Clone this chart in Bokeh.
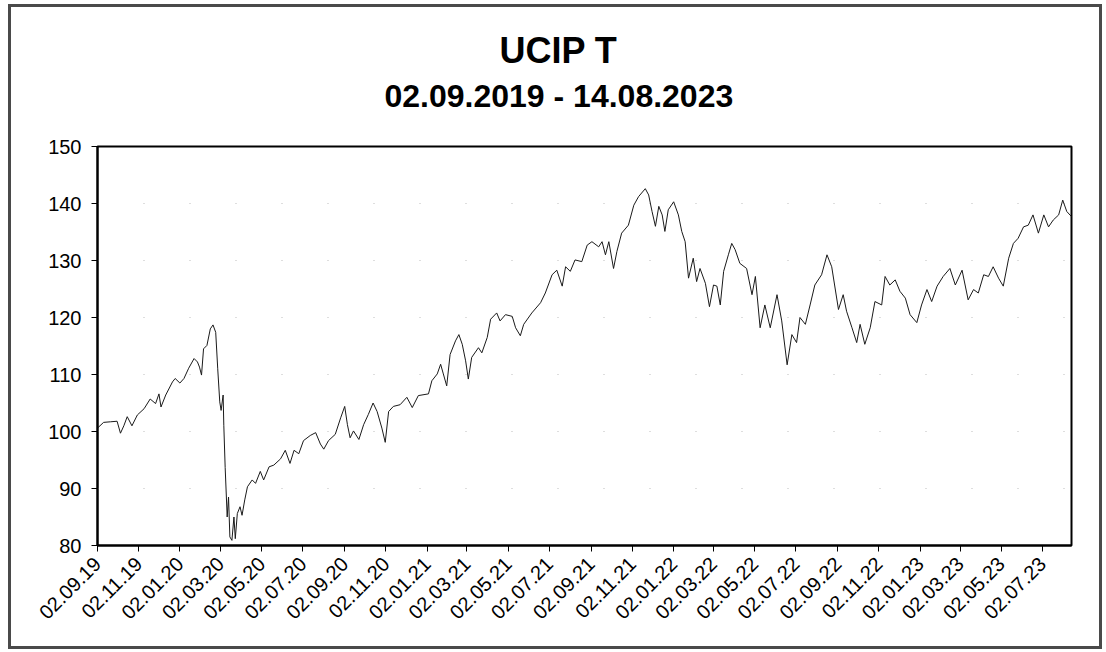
import datetime as dt
from bokeh.plotting import figure
from bokeh.models import (ColumnDataSource, Range1d, FixedTicker, DatetimeTickFormatter, Title)
from bokeh.embed import file_html
from bokeh.resources import INLINE

title_text = "UCIP T"
subtitle_text = "02.09.2019 - 14.08.2023"

start_date = dt.datetime(2019, 9, 2)
end_date = dt.datetime(2023, 8, 14)

# days after 02.09.2019 for each read-off point
day_offsets = [
    0, 9, 19, 29, 34, 39, 44, 51, 59, 69, 78, 86, 91, 94, 101, 111, 115, 122, 128, 135,
    143, 148, 151, 154, 157, 162, 167, 171, 175, 178, 181, 183, 186, 187, 189, 192, 194, 196, 199, 202,
    204, 207, 211, 214, 218, 222, 229, 234, 241, 246, 254, 261, 271, 278, 285, 291, 298, 305, 315, 323,
    330, 335, 342, 352, 360, 366, 370, 374, 379, 387, 394, 401, 408, 414, 421, 426, 431, 438, 448, 458,
    466, 475, 490, 495, 503, 508, 512, 517, 522, 530, 535, 540, 545, 549, 554, 564, 569, 577, 582, 591,
    596, 604, 614, 619, 626, 631, 643, 656, 663, 673, 680, 688, 693, 700, 707, 717, 725, 732, 742, 747,
    752, 757, 764, 769, 776, 786, 794, 801, 811, 816, 821, 826, 831, 836, 840, 845, 853, 860, 865, 870,
    875, 882, 887, 892, 900, 906, 912, 917, 922, 927, 934, 939, 944, 951, 961, 969, 974, 981, 988, 996,
    1006, 1013, 1021, 1028, 1035, 1040, 1048, 1055, 1062, 1072, 1080, 1087, 1097, 1104, 1109, 1117, 1124, 1129, 1136, 1144,
    1151, 1161, 1166, 1173, 1181, 1188, 1196, 1203, 1213, 1220, 1228, 1235, 1243, 1252, 1262, 1270, 1280, 1289, 1297, 1304,
    1312, 1319, 1326, 1334, 1341, 1349, 1356, 1363, 1371, 1378, 1385, 1393, 1401, 1408, 1415, 1423, 1429, 1435, 1442,
]

values = [
    100.6, 101.6, 101.7, 101.8, 99.7, 101.0, 102.6, 101.0, 102.9, 104.0, 105.7, 104.9, 106.6, 104.3, 106.4, 108.7, 109.3, 108.5, 109.3, 111.1,
    112.8, 112.2, 111.3, 109.9, 114.5, 115.1, 118.0, 118.7, 117.4, 111.0, 105.2, 103.7, 106.4, 101.1, 93.7, 85.0, 88.5, 81.5, 80.9, 85.0,
    81.2, 85.6, 86.8, 85.3, 88.0, 90.3, 91.5, 90.9, 93.0, 91.5, 93.8, 94.1, 95.2, 96.7, 94.4, 96.7, 96.1, 98.4, 99.3, 99.8,
    97.8, 96.9, 98.4, 99.5, 102.4, 104.4, 101.2, 98.9, 100.1, 98.6, 101.2, 103.0, 105.0, 103.5, 100.6, 98.1, 103.5, 104.4, 104.7, 106.0,
    104.2, 106.3, 106.6, 108.9, 110.1, 111.8, 110.1, 108.0, 113.5, 115.9, 117.0, 115.3, 112.4, 109.2, 113.0, 114.7, 113.8, 116.5, 119.7, 120.8,
    119.4, 120.5, 120.2, 118.2, 116.8, 118.8, 120.8, 122.6, 124.3, 127.5, 128.3, 125.5, 128.9, 128.1, 130.1, 129.8, 132.7, 133.3, 132.4, 133.3,
    131.0, 133.3, 128.6, 131.6, 134.8, 136.2, 139.7, 141.2, 142.6, 141.5, 138.6, 136.0, 139.5, 138.0, 135.1, 138.9, 140.3, 138.0, 135.1, 133.3,
    126.9, 130.4, 126.3, 128.6, 126.0, 121.9, 125.7, 125.5, 122.2, 128.1, 131.0, 133.0, 131.9, 129.5, 128.6, 124.0, 127.2, 118.2, 122.2, 118.2,
    124.0, 119.4, 111.7, 117.0, 115.6, 120.0, 118.8, 122.2, 125.7, 127.5, 131.0, 128.9, 121.4, 124.0, 121.1, 118.2, 115.6, 118.8, 115.3, 118.2,
    122.8, 122.2, 127.2, 125.7, 126.6, 124.6, 123.4, 120.5, 119.1, 122.2, 124.9, 122.8, 125.5, 127.2, 128.6, 125.7, 128.3, 123.1, 124.9, 124.3,
    127.5, 127.2, 128.9, 126.9, 125.5, 130.4, 133.0, 133.9, 135.9, 136.2, 138.0, 134.8, 138.0, 135.9, 137.1, 138.0, 140.6, 138.6, 137.7,
]

tick_labels = [
    "02.09.19", "02.11.19", "02.01.20", "02.03.20", "02.05.20", "02.07.20",
    "02.09.20", "02.11.20", "02.01.21", "02.03.21", "02.05.21", "02.07.21",
    "02.09.21", "02.11.21", "02.01.22", "02.03.22", "02.05.22", "02.07.22",
    "02.09.22", "02.11.22", "02.01.23", "02.03.23", "02.05.23", "02.07.23",
]
y_ticks = [80, 90, 100, 110, 120, 130, 140, 150]

epoch = dt.datetime(1970, 1, 1)
dates = [start_date + dt.timedelta(days=d) for d in day_offsets]
x_tick_ms = [(dt.datetime.strptime(s, "%d.%m.%y") - epoch).total_seconds() * 1000 for s in tick_labels]

FONT = "Liberation Sans"

p = figure(width=1088, height=639, x_axis_type="datetime",
           x_range=Range1d(start_date, end_date), y_range=Range1d(y_ticks[0], y_ticks[-1]),
           output_backend="svg", toolbar_location=None,
           min_border_left=86, min_border_right=28, min_border_top=0, min_border_bottom=101)
p.margin = (7, 0, 0, 11)

p.background_fill_color = "white"
p.border_fill_color = "white"
p.outline_line_color = "black"
p.outline_line_width = 2
p.styles = {"outline": "3px solid #4a4a4a", "outline-offset": "0px"}

src = ColumnDataSource(dict(date=dates, value=values))
p.line(x="date", y="value", source=src, line_color="#1a1a1a", line_width=1)

fmt = "%d.%m.%y"
p.xaxis.ticker = FixedTicker(ticks=x_tick_ms)
p.xaxis.formatter = DatetimeTickFormatter(
    microseconds=fmt, milliseconds=fmt, seconds=fmt, minsec=fmt, minutes=fmt,
    hourmin=fmt, hours=fmt, days=fmt, months=fmt, years=fmt)
p.xaxis.major_label_orientation = 0.7853981634
p.yaxis.ticker = FixedTicker(ticks=y_ticks)

for ax in (p.xaxis[0], p.yaxis[0]):
    ax.axis_line_color = "black"
    ax.axis_line_width = 2
    ax.major_tick_line_color = "black"
    ax.major_tick_line_width = 1
    ax.major_tick_in = 0
    ax.major_tick_out = 6
    ax.minor_tick_line_color = None
    ax.major_label_text_font = FONT
    ax.major_label_text_font_size = "20px"
    ax.major_label_text_color = "black"
p.yaxis.major_label_standoff = 10
p.xaxis.major_label_standoff = 9

p.xgrid.grid_line_color = None
p.ygrid.grid_line_color = "#bdbdbd"
p.ygrid.grid_line_dash = "1 45"
p.ygrid.grid_line_width = 1

# stacked title panels (first added = closest to the plot)
p.add_layout(Title(text=" ", text_font=FONT, text_font_size="10px", standoff=19), "above")
p.add_layout(Title(text=subtitle_text, text_font=FONT, text_font_size="32px", text_font_style="bold",
                   text_color="black", align="left", offset=287, standoff=2), "above")
p.add_layout(Title(text=title_text, text_font=FONT, text_font_size="36px", text_font_style="bold",
                   text_color="black", align="left", offset=402, standoff=7), "above")
p.add_layout(Title(text=" ", text_font=FONT, text_font_size="8px", standoff=6), "above")

open("out.html", "w").write(file_html(p, INLINE))
